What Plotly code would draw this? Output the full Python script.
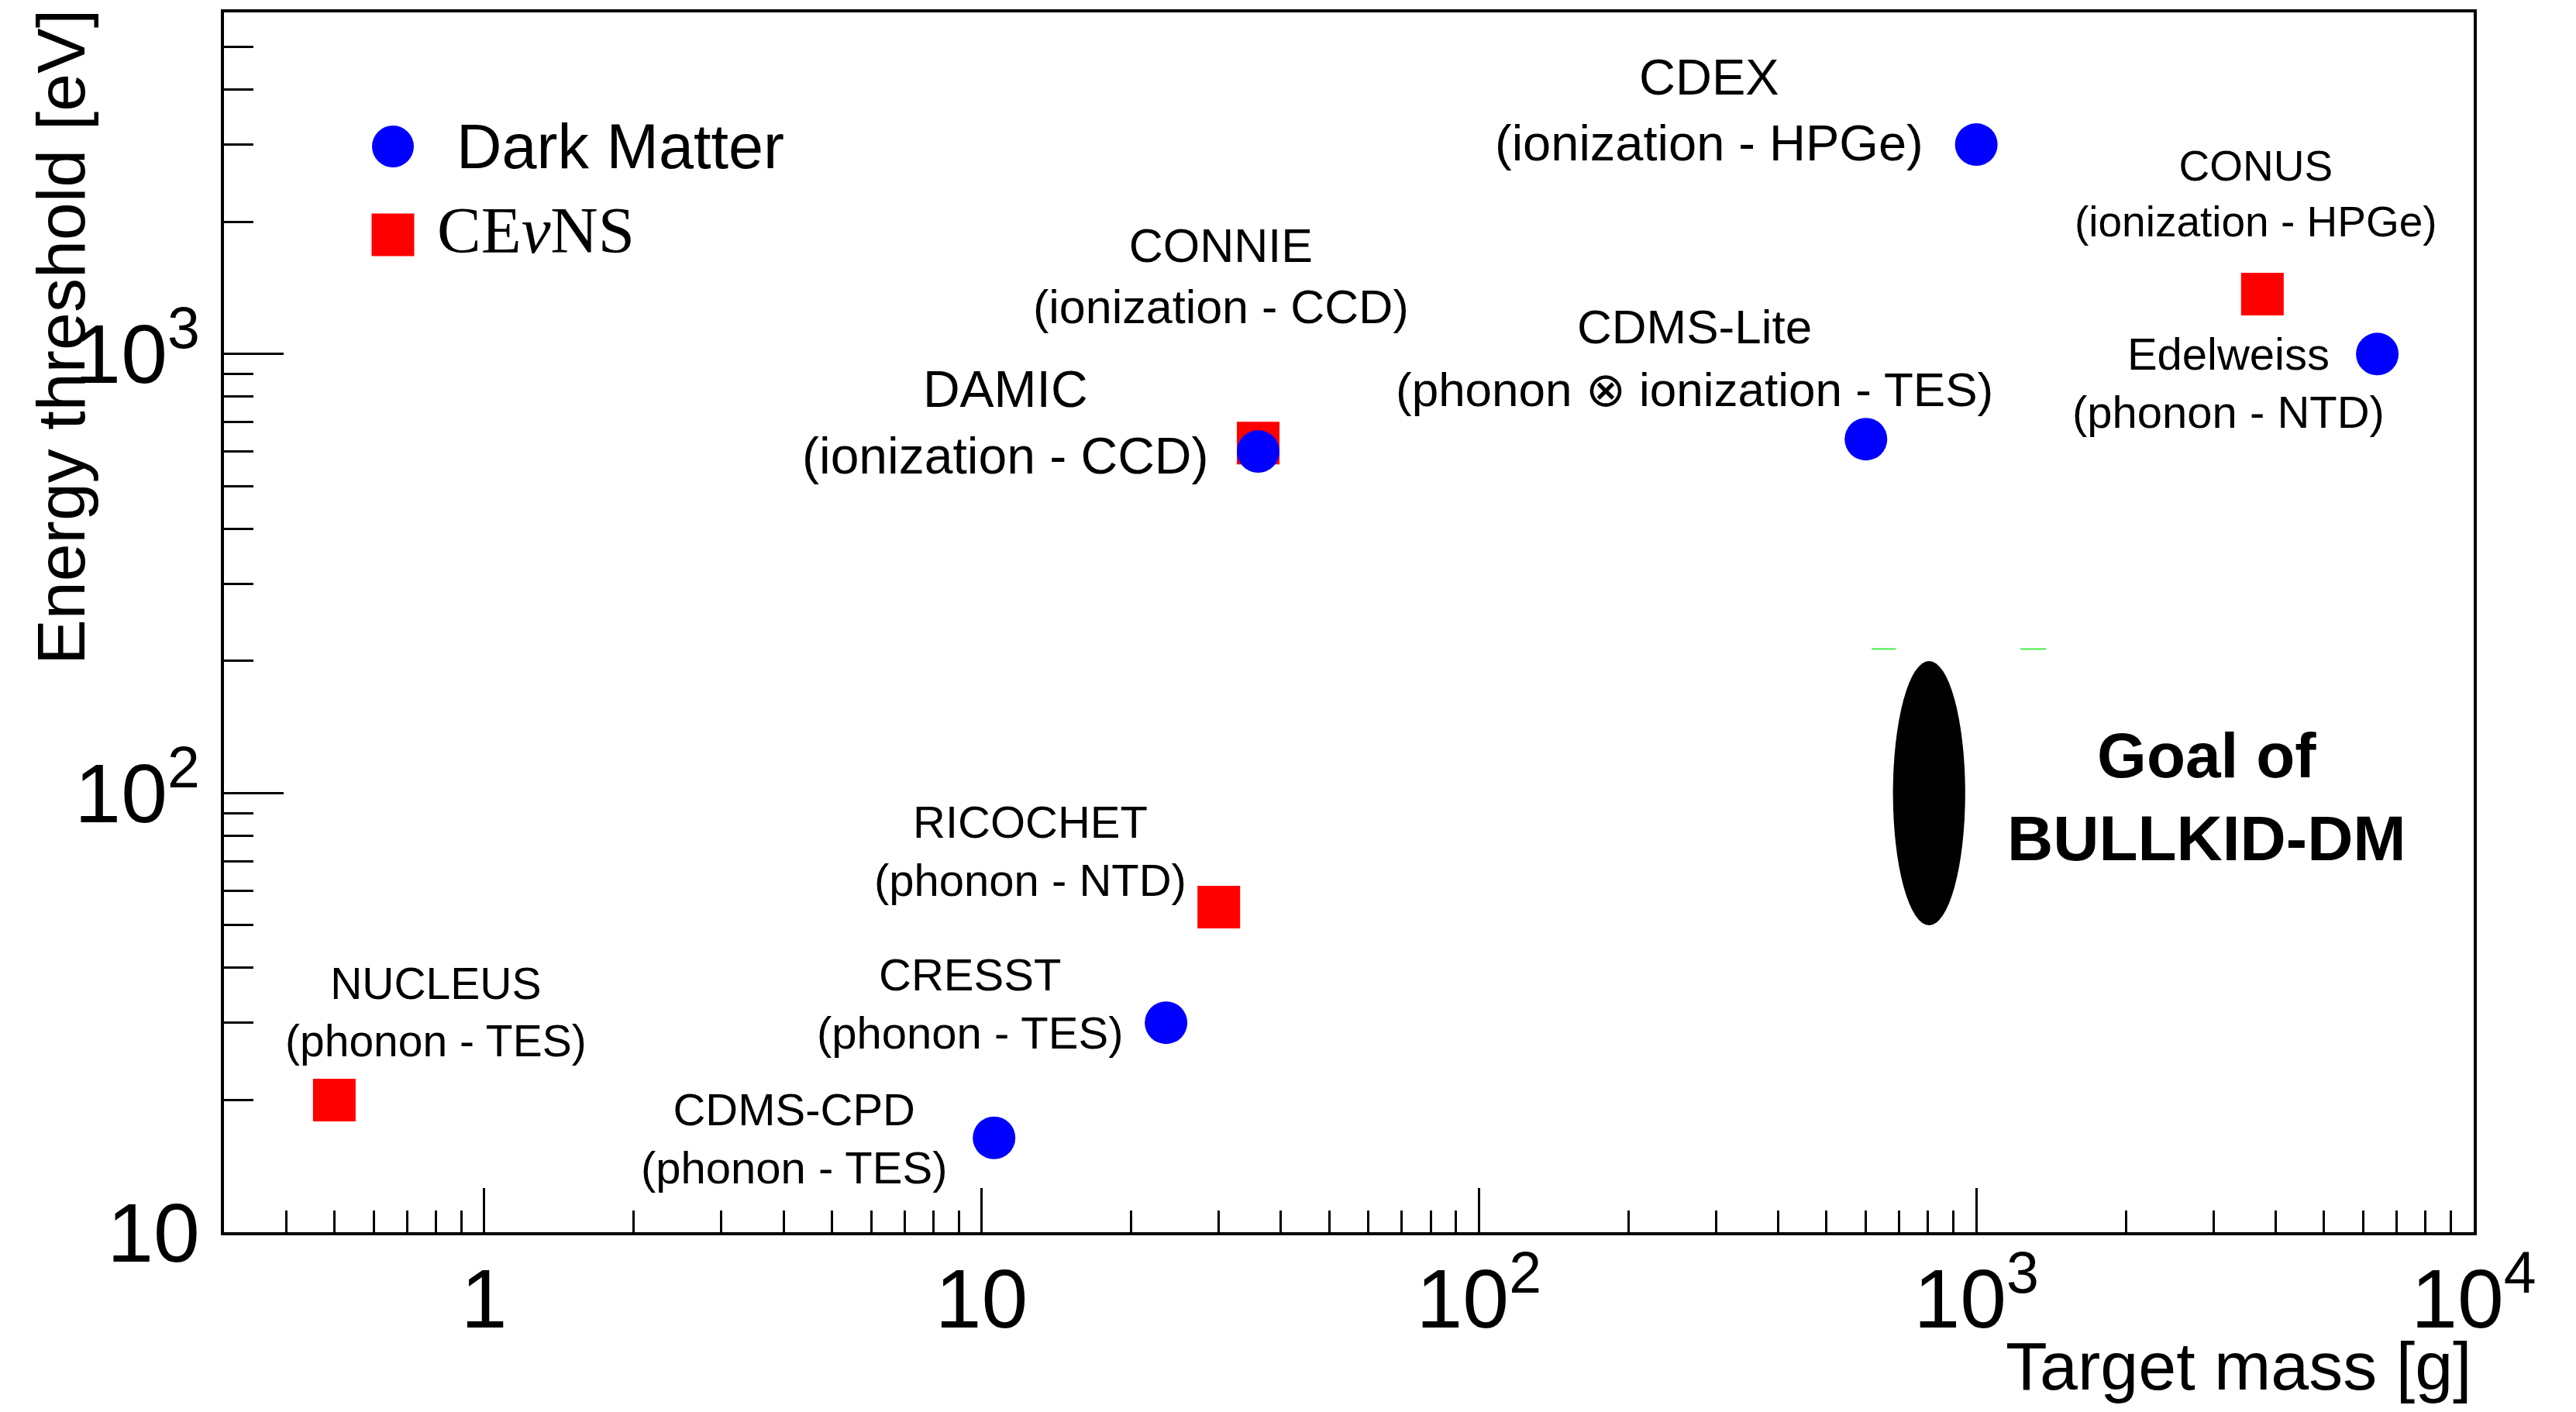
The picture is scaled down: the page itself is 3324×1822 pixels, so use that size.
import numpy as np
import plotly.graph_objects as go

# ---------------- data ----------------
dm_names = ["CDEX", "CDMS-Lite", "DAMIC", "Edelweiss", "CRESST", "CDMS-CPD"]
dm_mass = [1000, 600, 36, 6400, 23.5, 10.6]          # g
dm_threshold = [3000, 640, 600, 1000, 30, 16.4]     # eV

cevns_names = ["CONUS", "CONNIE", "RICOCHET", "NUCLEUS"]
cevns_mass = [3760, 36, 30, 0.5]                     # g
cevns_threshold = [1370, 627, 55, 20]                # eV

goal_mass_range = [680, 950]                         # g
goal_threshold_range = [50, 200]                     # eV

green_mass = [616, 689, None, 1227, 1381]
green_threshold = [213, 213, None, 213, 213]

x_range = [0.3, 1e4]
y_range = [10, 6000]

# label texts
label_texts = {
    "CDEX": "CDEX<br>(ionization - HPGe)",
    "CONUS": "CONUS<br>(ionization - HPGe)",
    "CONNIE": "CONNIE<br>(ionization - CCD)",
    "CDMS-Lite": "CDMS-Lite<br>(phonon \u2297 ionization - TES)",
    "Edelweiss": "Edelweiss<br>(phonon - NTD)",
    "DAMIC": "DAMIC<br>(ionization - CCD)",
    "RICOCHET": "RICOCHET<br>(phonon - NTD)",
    "CRESST": "CRESST<br>(phonon - TES)",
    "NUCLEUS": "NUCLEUS<br>(phonon - TES)",
    "CDMS-CPD": "CDMS-CPD<br>(phonon - TES)",
}

# ---------------- layout constants (pixels) ----------------
W, H = 3324, 1822
L, R, T, B = 289, 3192, 16, 1590   # plot frame in pixels


def px(xp):
    return (xp - L) / (R - L)


def py(yp):
    return (B - yp) / (B - T)


# label block centers (pixel) and font sizes
label_layout = {
    "CDEX": (2205, 142, 65),
    "CONUS": (2911, 250, 55),
    "CONNIE": (1575, 356, 61),
    "CDMS-Lite": (2186, 462, 62),
    "Edelweiss": (2875, 494, 58),
    "DAMIC": (1297, 545, 66),
    "RICOCHET": (1329, 1098, 58),
    "CRESST": (1251, 1295, 58),
    "NUCLEUS": (562, 1306, 57),
    "CDMS-CPD": (1024, 1469, 58),
}

FONT = "Liberation Sans, Arial, Helvetica, sans-serif"

fig = go.Figure()

fig.add_trace(go.Scatter(
    x=green_mass, y=green_threshold, mode="lines",
    line=dict(color="#44ee44", width=2), hoverinfo="skip", showlegend=False))

fig.add_trace(go.Scatter(
    x=cevns_mass, y=cevns_threshold, mode="markers", name="CE\u03bdNS",
    text=cevns_names,
    marker=dict(symbol="square", size=55, color="#ff0000", line=dict(width=0)),
    showlegend=False))

fig.add_trace(go.Scatter(
    x=dm_mass, y=dm_threshold, mode="markers", name="Dark Matter",
    text=dm_names,
    marker=dict(symbol="circle", size=55, color="#0000ff", line=dict(width=0)),
    showlegend=False))

shapes = [
    # goal ellipse in data coordinates
    dict(type="circle", xref="x", yref="y",
         x0=goal_mass_range[0], x1=goal_mass_range[1],
         y0=goal_threshold_range[0], y1=goal_threshold_range[1],
         fillcolor="black", line=dict(width=0), layer="above"),
    # legend keys
    dict(type="circle", xref="paper", yref="paper", xsizemode="pixel", ysizemode="pixel",
         xanchor=px(507), yanchor=py(189), x0=-27, x1=27, y0=-27, y1=27,
         fillcolor="#0000ff", line=dict(width=0)),
    dict(type="rect", xref="paper", yref="paper", xsizemode="pixel", ysizemode="pixel",
         xanchor=px(507), yanchor=py(303), x0=-27.5, x1=27.5, y0=-27.5, y1=27.5,
         fillcolor="#ff0000", line=dict(width=0)),
]

annotations = []
for name, txt in label_texts.items():
    xp, yp, fs = label_layout[name]
    annotations.append(dict(
        text=txt, x=px(xp), y=py(yp), xref="paper", yref="paper",
        xanchor="center", yanchor="middle", align="center", showarrow=False,
        font=dict(family=FONT, size=fs, color="black")))

annotations.append(dict(
    text="<b>Goal of<br>BULLKID-DM</b>", x=px(2847), y=py(1028), xref="paper", yref="paper",
    xanchor="center", yanchor="middle", align="center", showarrow=False,
    font=dict(family=FONT, size=82, color="black")))

# legend texts
annotations.append(dict(
    text="Dark Matter", x=px(587), y=py(189), xref="paper", yref="paper",
    xanchor="left", yanchor="middle", showarrow=False,
    font=dict(family=FONT, size=81, color="black")))
annotations.append(dict(
    text="CE<i>\u03bd</i>NS", x=px(562), y=py(297), xref="paper", yref="paper",
    xanchor="left", yanchor="middle", showarrow=False,
    font=dict(family="Liberation Serif, Times New Roman, serif", size=85, color="black")))

# axis titles
annotations.append(dict(
    text="Target mass [g]", x=1.0, y=py(1762), xref="paper", yref="paper",
    xanchor="right", yanchor="middle", showarrow=False,
    font=dict(family=FONT, size=88, color="black")))
annotations.append(dict(
    text="Energy threshold [eV]", x=px(78), y=py(435), xref="paper", yref="paper",
    xanchor="center", yanchor="middle", textangle=-90, showarrow=False,
    font=dict(family=FONT, size=88, color="black")))

fig.update_layout(
    width=W, height=H,
    margin=dict(l=L, r=W - R, t=T, b=H - B, pad=0),
    paper_bgcolor="white", plot_bgcolor="white",
    showlegend=False,
    font=dict(family=FONT, color="black"),
    shapes=shapes, annotations=annotations,
)

common = dict(
    type="log", showline=True, linewidth=4, linecolor="black", mirror=True,
    ticks="inside", tickwidth=3, tickcolor="black",
    tick0=0, dtick=1, exponentformat="power",
    tickfont=dict(family=FONT, size=86, color="black"),
    showgrid=False, zeroline=False,
)

fig.update_xaxes(range=[np.log10(x_range[0]), np.log10(x_range[1])], ticklen=57,
                 ticklabelstandoff=-6,
                 minor=dict(ticks="inside", ticklen=28, tickwidth=3, tickcolor="black", showgrid=False),
                 **common)
fig.update_yaxes(range=[np.log10(y_range[0]), np.log10(y_range[1])], ticklen=77,
                 ticklabelstandoff=10,
                 minor=dict(ticks="inside", ticklen=38, tickwidth=3, tickcolor="black", showgrid=False),
                 **common)

fig.write_html("out.html", config={"displayModeBar": False},
               post_script="document.body.style.margin='0';")
